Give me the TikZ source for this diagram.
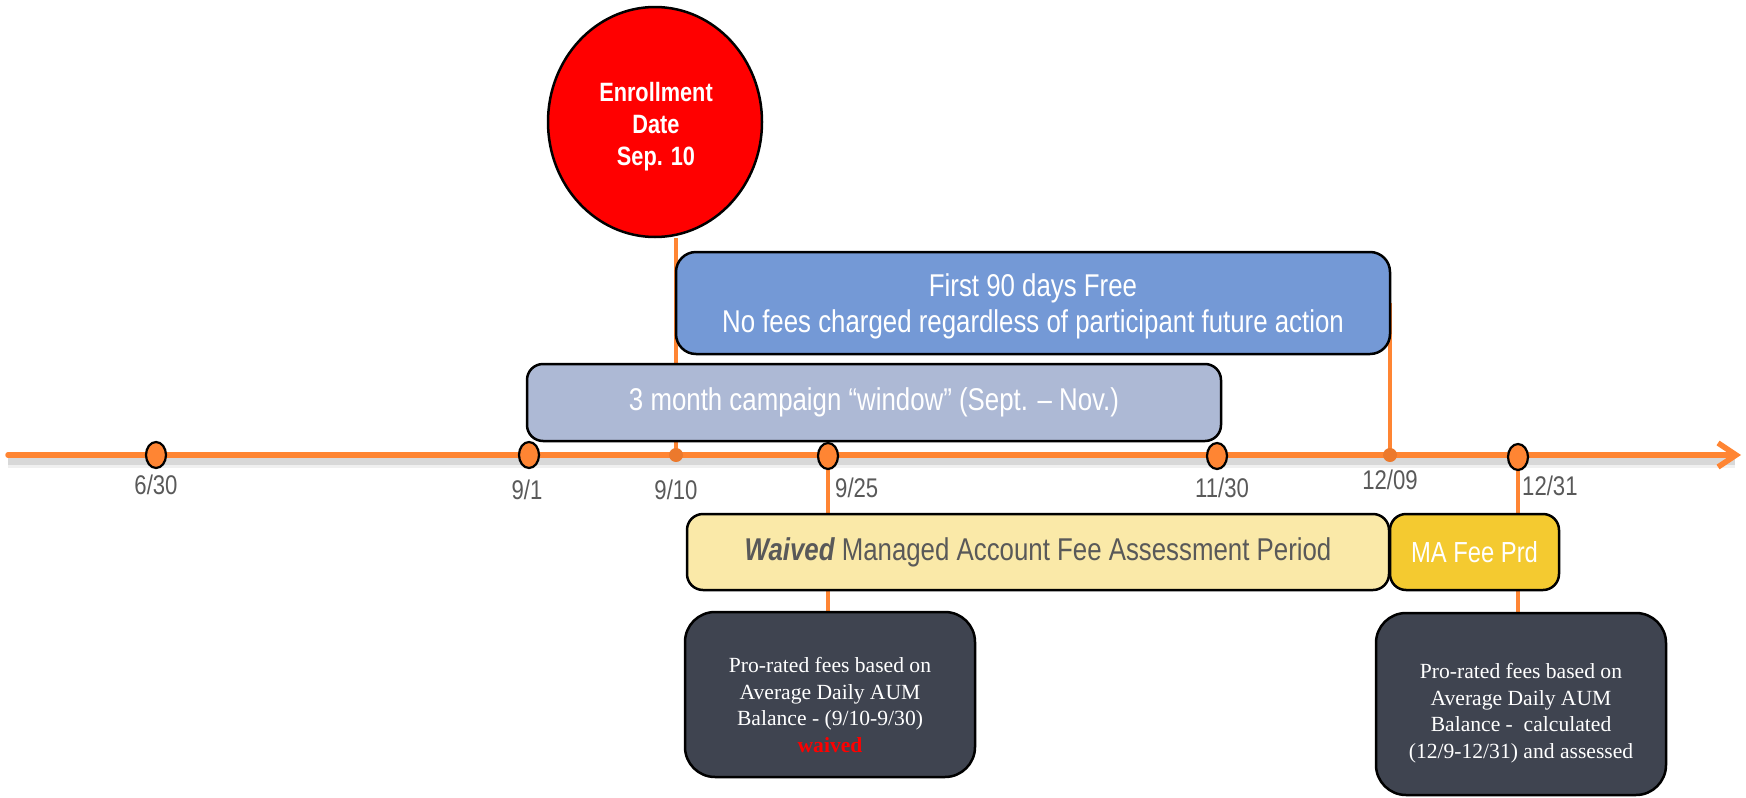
\documentclass[tikz,border=0pt]{standalone}
\usepackage{fontspec}
\setmainfont{Liberation Sans}
\newfontfamily\narrow[FakeStretch=0.82]{Liberation Sans}
\newfontfamily\tnr{Liberation Serif}
\usetikzlibrary{arrows.meta,shapes.geometric}
\definecolor{tlorange}{RGB}{255,133,51}
\definecolor{dotorange}{RGB}{236,121,44}
\definecolor{lblgray}{RGB}{89,89,89}
\definecolor{bluefill}{RGB}{116,153,214}
\definecolor{grayfill}{RGB}{173,185,213}
\definecolor{yelfill}{RGB}{250,233,168}
\definecolor{goldfill}{RGB}{244,202,48}
\definecolor{darkfill}{RGB}{63,68,80}
\definecolor{enrred}{RGB}{255,0,0}
\pgfdeclarelayer{bg}
\pgfsetlayers{bg,main}
\tikzset{
  box/.style={draw=black,line width=2.5pt,rectangle,rounded corners=16pt,inner sep=0pt,align=center},
  bigtxt/.style={font=\narrow\fontsize{31.5}{36}\selectfont},
  darkbox/.style={box,fill=darkfill,rounded corners=30pt},
  darktxt/.style={text=white,align=center,inner sep=0pt,font=\tnr\fontsize{21.6}{26.5}\selectfont},
  marker/.style={draw=black,line width=2.2pt,fill=tlorange,ellipse,minimum width=20pt,minimum height=26pt,inner sep=0pt},
  tdot/.style={fill=dotorange,circle,minimum size=14pt,inner sep=0pt},
  datelbl/.style={text=lblgray,font=\narrow\fontsize{27}{30}\selectfont,inner sep=0pt},
  conn/.style={draw=tlorange,line width=4pt},
  timeline/.style={draw=tlorange,line width=5.5pt,line cap=round,-{Straight Barb[length=18pt,width=24pt,line width=5.5pt]}}
}
\begin{document}
\begin{tikzpicture}[x=1pt,y=-1pt]
\useasboundingbox (0,0) rectangle (1746,798);

% timeline coordinates
\coordinate (tlstart) at (8,455);
\coordinate (tlend) at (1741,455);

% boxes
\node[box,fill=bluefill,text=white,bigtxt,minimum width=714pt,minimum height=102pt,rounded corners=20pt] (blue) at (1033,303)
  {\raisebox{0pt}[29pt][0pt]{First 90 days Free}\\No fees charged regardless of participant future action};
\node[box,fill=grayfill,text=white,bigtxt,minimum width=694pt,minimum height=77pt] (gray) at (874,402.5)
  {3 month campaign “window” (Sept. – Nov.)};
\node[box,fill=yelfill,text=lblgray,bigtxt,minimum width=702pt,minimum height=76pt] (yel) at (1038,552)
  {{\bfseries\itshape Waived} Managed Account Fee Assessment Period};
\node[box,fill=goldfill,text=white,font=\narrow\fontsize{29}{34}\selectfont,minimum width=169pt,minimum height=76pt] (gold) at (1474.5,552)
  {MA Fee Prd};
\node[darkbox,minimum width=290pt,minimum height=165pt] (dark1) at (830,694.5) {};
\node[darktxt] (dark1t) at (830,705)
  {Pro-rated fees based on\\Average Daily AUM\\Balance - (9/10-9/30)\\{\color{enrred}\bfseries waived}};
\node[darkbox,minimum width=290pt,minimum height=182pt] (dark2) at (1521,704) {};
\node[darktxt] (dark2t) at (1521,713)
  {Pro-rated fees based on\\Average Daily AUM\\Balance -\ \ calculated\\(12/9-12/31) and assessed};

% enrollment circle
\node[ellipse,draw=black,line width=2.5pt,fill=enrred,minimum width=214pt,minimum height=230pt,inner sep=0pt] (circ) at (655,122) {};
\node[text=white,align=center,inner sep=0pt,font=\narrow\bfseries\fontsize{26.5}{32}\selectfont] (circt) at (656,127)
  {Enrollment\\Date\\Sep. 10};

% markers
\node[marker] (m630) at (156,455) {};
\node[marker] (m901) at (529,455) {};
\node[marker] (m925) at (828,456) {};
\node[marker] (m1130) at (1217,456) {};
\node[marker] (m1231) at (1518,457) {};
\node[tdot] (d910) at (676,455) {};
\node[tdot] (d1209) at (1390,455) {};

% date labels
\node[datelbl] (l630) at (156,485) {6/30};
\node[datelbl] (l901) at (527,490) {9/1};
\node[datelbl] (l910) at (676,490) {9/10};
\node[datelbl,anchor=west] (l925) at (835,488) {9/25};
\node[datelbl] (l1130) at (1222,488) {11/30};
\node[datelbl] (l1209) at (1390,480) {12/09};
\node[datelbl,anchor=west] (l1231) at (1522,486) {12/31};

\begin{pgfonlayer}{bg}
  % shadow of timeline
  \draw[line width=12pt,black,opacity=0.06] (8,462) -- (1735,462);
  \draw[line width=7pt,black,opacity=0.10] (8,461) -- (1735,461);
  \draw[timeline] (tlstart) -- (tlend);
  \draw[conn] (d910.center) -- (d910.center |- circ.south);
  \draw[conn] (d1209.center) -- (d1209.center |- blue.east);
  \draw[conn] (m925.center) -- (m925.center |- dark1.north);
  \draw[conn] (m1231.center) -- (m1231.center |- dark2.north);
\end{pgfonlayer}
\end{tikzpicture}
\end{document}
